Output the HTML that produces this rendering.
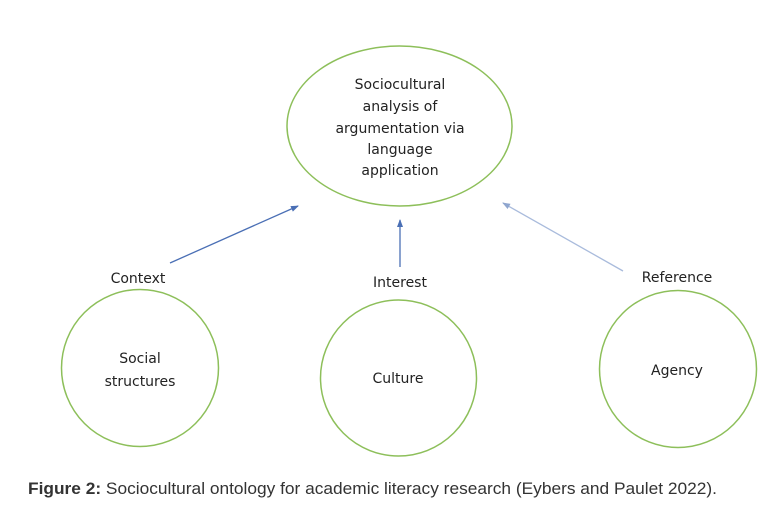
<!DOCTYPE html>
<html><head><style>
body{margin:0;background:#fff;width:772px;height:513px;overflow:hidden}
svg text{font-family:"DejaVu Sans","Liberation Sans",sans-serif;font-size:14px;fill:#222}
</style></head><body>
<svg width="772" height="513" xmlns="http://www.w3.org/2000/svg">
<defs>
<marker id="a" markerWidth="8" markerHeight="8" refX="7" refY="4" orient="auto" markerUnits="userSpaceOnUse"><path d="M0,1 L8,4 L0,7 z" fill="#4a6fb5"/></marker>
<marker id="b" markerWidth="8" markerHeight="8" refX="7" refY="4" orient="auto" markerUnits="userSpaceOnUse"><path d="M0,1 L8,4 L0,7 z" fill="#8fa6cf"/></marker>
</defs>
<ellipse cx="399.5" cy="126" rx="112.5" ry="80" fill="none" stroke="#8dbf5a" stroke-width="1.5"/>
<circle cx="140" cy="368" r="78.5" fill="none" stroke="#8dbf5a" stroke-width="1.5"/>
<circle cx="398.5" cy="378" r="78" fill="none" stroke="#8dbf5a" stroke-width="1.5"/>
<circle cx="678" cy="369" r="78.5" fill="none" stroke="#8dbf5a" stroke-width="1.5"/>
<line x1="170" y1="263" x2="298" y2="206" stroke="#4a6fb5" stroke-width="1.3" marker-end="url(#a)"/>
<line x1="400" y1="267" x2="400" y2="220" stroke="#4a6fb5" stroke-width="1.3" marker-end="url(#a)"/>
<line x1="623" y1="271" x2="503" y2="203" stroke="#a9bbdc" stroke-width="1.3" marker-end="url(#b)"/>
<g text-anchor="middle">
<text x="400" y="89">Sociocultural</text>
<text x="400" y="111">analysis of</text>
<text x="400" y="133">argumentation via</text>
<text x="400" y="154">language</text>
<text x="400" y="175">application</text>
<text x="138" y="283">Context</text>
<text x="400" y="287">Interest</text>
<text x="677" y="282">Reference</text>
<text x="140" y="363">Social</text>
<text x="140" y="386">structures</text>
<text x="398" y="383">Culture</text>
<text x="677" y="375">Agency</text>
</g>
<text x="28" y="494" textLength="689" lengthAdjust="spacingAndGlyphs" style="font-family:'Liberation Sans',sans-serif;font-size:16.5px;fill:#333"><tspan font-weight="bold">Figure 2:</tspan> Sociocultural ontology for academic literacy research (Eybers and Paulet 2022).</text>
</svg>
</body></html>
